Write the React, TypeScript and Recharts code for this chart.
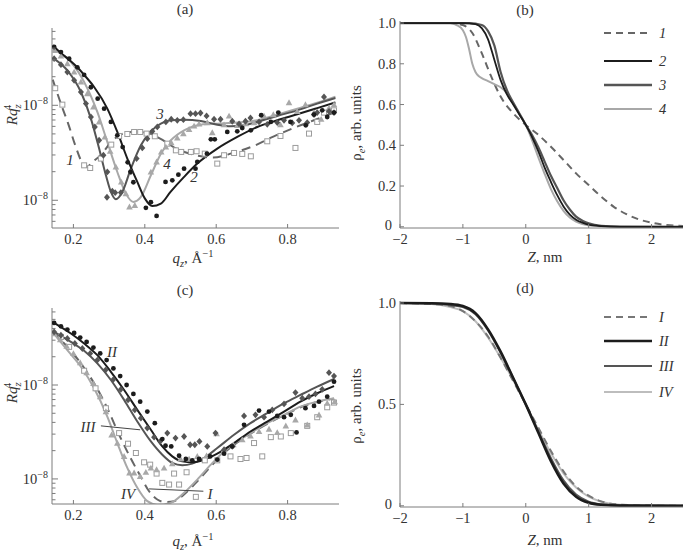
import React from 'react';
import { ComposedChart, Line, Scatter, XAxis, YAxis, ReferenceLine, Legend } from 'recharts';

type Pt = [number, number];

const SERIF = '"Liberation Serif", "Times New Roman", serif';
const AXIS = '#7c7c7c';
const INK = '#333';
const BLACK = '#1c1c1c';
const DARK = '#555';
const LIGHT = '#a8a8a8';
const DASH = '#666';

// (a) q_z [1/Å] vs log10(R q_z^4)
const fitA1: Pt[] = [[0.142, -6.73], [0.168, -7.015], [0.186, -7.2], [0.205, -7.42], [0.224, -7.6], [0.238, -7.65], [0.252, -7.6], [0.275, -7.53], [0.303, -7.4], [0.331, -7.31], [0.368, -7.278], [0.406, -7.29], [0.443, -7.35], [0.49, -7.46], [0.536, -7.52], [0.592, -7.55], [0.648, -7.5], [0.704, -7.43], [0.76, -7.33], [0.816, -7.24], [0.872, -7.16], [0.934, -7.07]];
const fitA2: Pt[] = [[0.142, -6.37], [0.165, -6.45], [0.188, -6.52], [0.211, -6.6], [0.23, -6.68], [0.258, -6.807], [0.295, -7.035], [0.323, -7.281], [0.351, -7.561], [0.379, -7.807], [0.4, -7.98], [0.421, -8.06], [0.445, -8.035], [0.472, -7.912], [0.51, -7.754], [0.547, -7.614], [0.603, -7.456], [0.659, -7.333], [0.715, -7.228], [0.771, -7.158], [0.827, -7.095], [0.883, -7.03], [0.934, -6.97]];
const fitA3: Pt[] = [[0.142, -6.5], [0.183, -6.632], [0.221, -6.86], [0.249, -7.14], [0.272, -7.456], [0.291, -7.737], [0.305, -7.912], [0.319, -7.989], [0.337, -7.912], [0.361, -7.667], [0.389, -7.421], [0.417, -7.274], [0.445, -7.193], [0.473, -7.158], [0.51, -7.151], [0.557, -7.165], [0.603, -7.204], [0.64, -7.221], [0.678, -7.211], [0.715, -7.175], [0.771, -7.112], [0.827, -7.053], [0.883, -6.982], [0.934, -6.923]];
const fitA4: Pt[] = [[0.142, -6.41], [0.193, -6.544], [0.23, -6.754], [0.267, -7.07], [0.295, -7.386], [0.323, -7.702], [0.347, -7.93], [0.368, -8.018], [0.389, -7.965], [0.417, -7.737], [0.445, -7.509], [0.473, -7.368], [0.51, -7.263], [0.557, -7.204], [0.603, -7.193], [0.659, -7.182], [0.715, -7.158], [0.771, -7.098], [0.827, -7.035], [0.883, -6.972], [0.934, -6.909]];

const ptsA1: Pt[] = [[0.149, -6.82], [0.169, -6.993], [0.23, -7.632], [0.247, -7.66], [0.277, -7.561], [0.306, -7.414], [0.328, -7.323], [0.351, -7.302], [0.37, -7.281], [0.387, -7.281], [0.405, -7.298], [0.428, -7.326], [0.463, -7.404], [0.487, -7.474], [0.502, -7.491], [0.529, -7.491], [0.545, -7.484], [0.568, -7.509], [0.603, -7.614], [0.622, -7.526], [0.65, -7.502], [0.673, -7.512], [0.697, -7.537], [0.743, -7.379], [0.78, -7.323], [0.822, -7.449], [0.86, -7.298], [0.883, -7.175], [0.902, -7.077], [0.93, -7.053]];
const ptsA2: Pt[] = [[0.146, -6.386], [0.165, -6.44], [0.188, -6.51], [0.211, -6.6], [0.23, -6.68], [0.249, -6.81], [0.268, -6.93], [0.286, -7.035], [0.305, -7.175], [0.323, -7.316], [0.338, -7.44], [0.352, -7.6], [0.36, -7.7], [0.368, -7.81], [0.403, -8.08], [0.417, -8.02], [0.433, -8.165], [0.458, -7.807], [0.477, -7.79], [0.494, -7.73], [0.51, -7.667], [0.542, -7.667], [0.547, -7.596], [0.574, -7.509], [0.585, -7.358], [0.596, -7.358], [0.631, -7.28], [0.659, -7.274], [0.673, -7.239], [0.697, -7.263], [0.726, -7.105], [0.753, -7.175], [0.774, -7.077], [0.808, -7.175], [0.851, -7.211], [0.874, -7.098], [0.897, -7.053], [0.911, -7.123], [0.93, -7.077]];
const ptsA3: Pt[] = [[0.146, -6.509], [0.165, -6.572], [0.183, -6.65], [0.202, -6.737], [0.221, -6.86], [0.235, -6.982], [0.249, -7.123], [0.26, -7.228], [0.272, -7.368], [0.284, -7.526], [0.295, -7.702], [0.309, -7.905], [0.294, -7.968], [0.317, -7.92], [0.333, -7.919], [0.361, -7.7], [0.377, -7.561], [0.393, -7.449], [0.407, -7.351], [0.421, -7.274], [0.435, -7.228], [0.459, -7.175], [0.474, -7.147], [0.491, -7.158], [0.508, -7.151], [0.528, -7.088], [0.542, -7.088], [0.556, -7.081], [0.573, -7.112], [0.594, -7.147], [0.612, -7.147], [0.645, -7.168], [0.664, -7.196], [0.682, -7.168], [0.696, -7.133], [0.72, -7.175], [0.743, -7.2], [0.771, -7.182], [0.79, -7.158], [0.813, -7.186], [0.832, -7.158], [0.855, -7.182], [0.874, -7.098], [0.883, -7.077], [0.902, -6.912], [0.916, -7.063], [0.93, -7.077]];
const ptsA4: Pt[] = [[0.146, -6.421], [0.165, -6.481], [0.183, -6.561], [0.202, -6.649], [0.221, -6.754], [0.239, -6.877], [0.256, -7.018], [0.272, -7.175], [0.288, -7.333], [0.303, -7.484], [0.319, -7.649], [0.334, -7.807], [0.347, -7.93], [0.357, -8.07], [0.372, -8.053], [0.417, -7.702], [0.433, -7.596], [0.446, -7.491], [0.459, -7.439], [0.474, -7.393], [0.491, -7.344], [0.508, -7.298], [0.524, -7.253], [0.538, -7.218], [0.552, -7.196], [0.575, -7.182], [0.589, -7.288], [0.622, -7.204], [0.636, -7.112], [0.659, -7.211], [0.682, -7.193], [0.706, -7.182], [0.734, -7.112], [0.76, -7.098], [0.78, -7.204], [0.804, -6.972], [0.827, -7.063], [0.85, -6.993], [0.874, -7.077], [0.894, -7.147], [0.916, -7.028], [0.93, -6.993]];

// (c) same axes, samples I-IV
const fitC1: Pt[] = [[0.142, -6.43], [0.183, -6.594], [0.221, -6.77], [0.258, -6.982], [0.295, -7.247], [0.328, -7.53], [0.36, -7.777], [0.388, -7.972], [0.412, -8.131], [0.435, -8.219], [0.459, -8.247], [0.482, -8.237], [0.51, -8.166], [0.547, -8.025], [0.585, -7.866], [0.622, -7.724], [0.659, -7.611], [0.696, -7.519], [0.743, -7.413], [0.79, -7.322], [0.836, -7.237], [0.883, -7.18], [0.93, -7.145]];
const fitC2: Pt[] = [[0.142, -6.33], [0.193, -6.452], [0.23, -6.558], [0.267, -6.682], [0.305, -6.859], [0.342, -7.053], [0.379, -7.265], [0.417, -7.477], [0.449, -7.654], [0.477, -7.76], [0.505, -7.813], [0.533, -7.823], [0.566, -7.795], [0.603, -7.731], [0.65, -7.618], [0.696, -7.495], [0.743, -7.389], [0.79, -7.283], [0.836, -7.177], [0.883, -7.088], [0.93, -7.011]];
const fitC3: Pt[] = [[0.142, -6.425], [0.193, -6.541], [0.23, -6.636], [0.267, -6.77], [0.305, -6.947], [0.342, -7.159], [0.379, -7.389], [0.417, -7.601], [0.449, -7.742], [0.477, -7.83], [0.505, -7.855], [0.533, -7.837], [0.566, -7.777], [0.603, -7.671], [0.65, -7.53], [0.696, -7.406], [0.743, -7.3], [0.79, -7.194], [0.836, -7.106], [0.883, -7.018], [0.93, -6.936]];
const fitC4: Pt[] = [[0.142, -6.44], [0.183, -6.629], [0.221, -6.806], [0.258, -7.035], [0.295, -7.336], [0.323, -7.618], [0.351, -7.883], [0.379, -8.095], [0.407, -8.237], [0.435, -8.275], [0.472, -8.255], [0.51, -8.148], [0.547, -8.007], [0.585, -7.848], [0.622, -7.707], [0.659, -7.6], [0.696, -7.512], [0.743, -7.406], [0.79, -7.318], [0.836, -7.23], [0.883, -7.177], [0.93, -7.141]];

const ptsC1: Pt[] = [[0.165, -6.488], [0.188, -6.594], [0.23, -6.848], [0.262, -7.035], [0.291, -7.247], [0.328, -7.512], [0.353, -7.625], [0.375, -7.724], [0.398, -7.823], [0.415, -7.848], [0.433, -7.943], [0.449, -8.042], [0.468, -8.06], [0.482, -7.943], [0.496, -8.06], [0.517, -7.929], [0.543, -8.191], [0.568, -7.802], [0.603, -7.802], [0.64, -7.76], [0.668, -7.788], [0.685, -7.777], [0.706, -7.618], [0.729, -7.76], [0.753, -7.555], [0.781, -7.548], [0.809, -7.512], [0.855, -7.435], [0.883, -7.343], [0.911, -7.237], [0.93, -7.187]];
const ptsC2: Pt[] = [[0.146, -6.339], [0.165, -6.375], [0.183, -6.41], [0.202, -6.445], [0.219, -6.495], [0.237, -6.541], [0.256, -6.601], [0.275, -6.664], [0.293, -6.735], [0.312, -6.823], [0.331, -6.905], [0.349, -7.0], [0.368, -7.095], [0.387, -7.177], [0.407, -7.283], [0.428, -7.406], [0.449, -7.576], [0.458, -7.647], [0.474, -7.654], [0.496, -7.753], [0.515, -7.788], [0.533, -7.802], [0.552, -7.788], [0.583, -7.76], [0.603, -7.795], [0.622, -7.731], [0.645, -7.654], [0.678, -7.424], [0.72, -7.272], [0.748, -7.283], [0.771, -7.329], [0.79, -7.343], [0.809, -7.318], [0.825, -7.505], [0.85, -7.247], [0.874, -7.223], [0.888, -7.177], [0.911, -7.124], [0.93, -6.965]];
const ptsC3: Pt[] = [[0.146, -6.435], [0.165, -6.47], [0.183, -6.505], [0.204, -6.558], [0.225, -6.611], [0.247, -6.664], [0.267, -6.735], [0.29, -6.841], [0.312, -6.94], [0.333, -7.046], [0.353, -7.159], [0.372, -7.265], [0.389, -7.353], [0.407, -7.459], [0.426, -7.555], [0.443, -7.601], [0.463, -7.512], [0.486, -7.565], [0.51, -7.548], [0.527, -7.636], [0.54, -7.636], [0.553, -7.601], [0.575, -7.654], [0.598, -7.512], [0.622, -7.689], [0.645, -7.654], [0.678, -7.329], [0.71, -7.318], [0.734, -7.343], [0.757, -7.265], [0.79, -7.201], [0.822, -7.081], [0.841, -7.141], [0.86, -7.124], [0.878, -7.095], [0.897, -7.046], [0.916, -6.869], [0.93, -6.905]];
const ptsC4: Pt[] = [[0.146, -6.452], [0.163, -6.516], [0.181, -6.587], [0.2, -6.664], [0.219, -6.763], [0.237, -6.869], [0.256, -6.982], [0.275, -7.124], [0.291, -7.283], [0.307, -7.53], [0.323, -7.618], [0.342, -7.76], [0.357, -7.936], [0.37, -7.936], [0.387, -7.972], [0.403, -7.929], [0.417, -7.883], [0.433, -7.901], [0.454, -7.883], [0.477, -7.837], [0.5, -7.788], [0.524, -7.788], [0.547, -7.76], [0.573, -7.753], [0.601, -7.519], [0.622, -7.689], [0.648, -7.636], [0.673, -7.583], [0.696, -7.541], [0.72, -7.495], [0.748, -7.47], [0.771, -7.505], [0.795, -7.435], [0.822, -7.371], [0.855, -7.424], [0.888, -7.318], [0.911, -7.194], [0.932, -7.177]];

// leader lines for the labels in (c), [q, log10 value]
const leadersC: [Pt, Pt][] = [[[0.277, -7.435], [0.387, -7.477]], [[0.412, -8.106], [0.564, -8.131]]];

// (b) electron density profiles, Z [nm] vs rho_e
const profB1: Pt[] = [[-2, 1], [-1.2, 1], [-1.0, 0.99], [-0.85, 0.951], [-0.7, 0.852], [-0.55, 0.738], [-0.4, 0.639], [-0.2, 0.557], [0, 0.5], [0.2, 0.451], [0.4, 0.393], [0.6, 0.328], [0.8, 0.262], [1.0, 0.205], [1.2, 0.148], [1.4, 0.098], [1.6, 0.062], [1.8, 0.036], [2.0, 0.02], [2.2, 0.01], [2.5, 0.004]];
const profB2: Pt[] = [[-2, 1], [-1.0, 1], [-0.8, 0.995], [-0.7, 0.975], [-0.6, 0.92], [-0.5, 0.82], [-0.4, 0.72], [-0.3, 0.65], [-0.2, 0.6], [-0.1, 0.55], [0, 0.5], [0.1, 0.44], [0.2, 0.37], [0.3, 0.29], [0.4, 0.22], [0.5, 0.155], [0.6, 0.1], [0.7, 0.06], [0.8, 0.035], [0.9, 0.02], [1.0, 0.01], [1.2, 0.003], [1.5, 0], [2.5, 0]];
const profB3: Pt[] = [[-2, 1], [-0.9, 1], [-0.7, 0.99], [-0.6, 0.96], [-0.5, 0.89], [-0.4, 0.76], [-0.3, 0.67], [-0.2, 0.61], [-0.1, 0.555], [0, 0.5], [0.1, 0.45], [0.2, 0.39], [0.3, 0.32], [0.4, 0.25], [0.5, 0.19], [0.6, 0.13], [0.7, 0.085], [0.8, 0.05], [0.9, 0.03], [1.0, 0.017], [1.2, 0.005], [1.5, 0.001], [2.5, 0]];
const profB4: Pt[] = [[-2, 1], [-1.2, 1], [-1.1, 0.99], [-1.0, 0.965], [-0.95, 0.93], [-0.9, 0.87], [-0.85, 0.8], [-0.8, 0.76], [-0.75, 0.74], [-0.7, 0.73], [-0.6, 0.715], [-0.5, 0.7], [-0.4, 0.685], [-0.3, 0.655], [-0.2, 0.605], [-0.1, 0.555], [0, 0.5], [0.1, 0.425], [0.2, 0.34], [0.3, 0.26], [0.4, 0.185], [0.5, 0.125], [0.6, 0.078], [0.7, 0.045], [0.8, 0.025], [0.9, 0.013], [1.0, 0.007], [1.2, 0.002], [1.5, 0], [2.5, 0]];

// (d) profiles I-IV
const profD1: Pt[] = [[-2, 1], [-1.5, 0.995], [-1.2, 0.985], [-1.0, 0.96], [-0.8, 0.91], [-0.6, 0.835], [-0.4, 0.73], [-0.2, 0.615], [0, 0.5], [0.2, 0.385], [0.4, 0.27], [0.6, 0.17], [0.8, 0.095], [1.0, 0.05], [1.2, 0.022], [1.5, 0.006], [2.0, 0.001], [2.5, 0]];
const profD2: Pt[] = [[-2, 1], [-1.5, 0.999], [-1.2, 0.995], [-1.0, 0.985], [-0.8, 0.95], [-0.6, 0.87], [-0.4, 0.76], [-0.2, 0.63], [0, 0.5], [0.2, 0.36], [0.4, 0.22], [0.6, 0.11], [0.8, 0.045], [1.0, 0.015], [1.2, 0.005], [1.5, 0.001], [2.5, 0]];
const profD3: Pt[] = [[-2, 1], [-1.5, 0.998], [-1.2, 0.99], [-1.0, 0.98], [-0.8, 0.945], [-0.6, 0.865], [-0.4, 0.755], [-0.2, 0.63], [0, 0.5], [0.2, 0.365], [0.4, 0.235], [0.6, 0.125], [0.8, 0.055], [1.0, 0.02], [1.2, 0.007], [1.5, 0.001], [2.5, 0]];
const profD4: Pt[] = [[-2, 1], [-1.5, 0.995], [-1.2, 0.98], [-1.0, 0.96], [-0.8, 0.91], [-0.6, 0.83], [-0.4, 0.73], [-0.2, 0.62], [0, 0.5], [0.2, 0.375], [0.4, 0.26], [0.6, 0.16], [0.8, 0.09], [1.0, 0.045], [1.2, 0.02], [1.5, 0.005], [2.0, 0.001], [2.5, 0]];

const qTicks = [0.2, 0.4, 0.6, 0.8];
const zTicks = [-2, -1, 0, 1, 2];
const rhoTicksB = [0, 0.2, 0.4, 0.6, 0.8, 1.0];
const rhoTicksD = [0, 0.5, 1.0];
const logTicks = [6e-9, 7e-9, 8e-9, 9e-9, 1e-8, 2e-8, 3e-8, 4e-8, 5e-8, 6e-8, 7e-8, 8e-8, 9e-8, 1e-7, 2e-7, 3e-7, 4e-7, 5e-7, 6e-7];

const legendB = [
  { label: '1', color: DASH, dash: '7 5', width: 2 },
  { label: '2', color: BLACK, dash: undefined, width: 2 },
  { label: '3', color: DARK, dash: undefined, width: 2.4 },
  { label: '4', color: LIGHT, dash: undefined, width: 2 },
];
const legendD = [
  { label: 'I', color: '#777', dash: '7 5', width: 2 },
  { label: 'II', color: BLACK, dash: undefined, width: 2.6 },
  { label: 'III', color: DARK, dash: undefined, width: 2 },
  { label: 'IV', color: '#bdbdbd', dash: undefined, width: 2 },
];

const logRows = (pts: Pt[]) => pts.map(([q, e]) => ({ x: q, y: 10 ** e }));
const rows = (pts: Pt[]) => pts.map(([x, y]) => ({ x, y }));

const minus = (v: number) => (v < 0 ? `\u2212${-v}` : `${v}`);

const TICK_FS = 14.5;

const Circle = (p: any) => <circle cx={p.cx} cy={p.cy} r={2.4} fill={BLACK} />;
const Diamond = (p: any) => (
  <path d={`M${p.cx},${p.cy - 3.4}L${p.cx + 3},${p.cy}L${p.cx},${p.cy + 3.4}L${p.cx - 3},${p.cy}Z`} fill={DARK} />
);
const Triangle = (p: any) => (
  <path d={`M${p.cx},${p.cy - 3.3}L${p.cx + 3.3},${p.cy + 2.6}L${p.cx - 3.3},${p.cy + 2.6}Z`} fill={LIGHT} />
);
const Square = (p: any) => (
  <rect x={p.cx - 2.5} y={p.cy - 2.5} width={5} height={5} fill="#fff" stroke="#9c9c9c" strokeWidth={1} />
);

const XTick = (fmt: (v: number) => string) => (p: any) => (
  <g>
    <line x1={p.x} x2={p.x} y1={p.y} y2={p.y - 4} stroke={AXIS} />
    <text x={p.x} y={p.y + 16} textAnchor="middle" fontFamily={SERIF} fontSize={TICK_FS} fill={INK}>
      {fmt(p.payload.value)}
    </text>
  </g>
);

const YTick = (fmt: (v: number) => string) => (p: any) => (
  <g>
    <line x1={p.x} x2={p.x + 4} y1={p.y} y2={p.y} stroke={AXIS} />
    <text
      x={p.x - (p.payload.value === 0 ? 8 : 4)}
      y={p.y + (p.payload.value === 0 ? 3 : 5)}
      textAnchor="end"
      fontFamily={SERIF}
      fontSize={TICK_FS}
      fill={INK}
    >
      {fmt(p.payload.value)}
    </text>
  </g>
);

const LogTick = (p: any) => {
  const e = Math.log10(p.payload.value);
  const major = Math.abs(e - Math.round(e)) < 1e-6;
  return (
    <g>
      <line x1={p.x} x2={p.x + (major ? 6 : 3.5)} y1={p.y} y2={p.y} stroke={AXIS} />
      {major && (
        <text x={p.x - 4} y={p.y + 5} textAnchor="end" fontFamily={SERIF} fontSize={TICK_FS} fill={INK}>
          10<tspan dy={-6} fontSize={10}>{'\u22128'}</tspan>
        </text>
      )}
    </g>
  );
};

const Txt = ({ x, y, children, size = 15, italic = false, rotate = false }: any) => (
  <div
    style={{
      position: 'absolute',
      left: x,
      top: y,
      transform: `translate(-50%, -50%)${rotate ? ' rotate(-90deg)' : ''}`,
      fontFamily: SERIF,
      fontSize: size,
      fontStyle: italic ? 'italic' : 'normal',
      color: INK,
      whiteSpace: 'nowrap',
      lineHeight: 1,
    }}
  >
    {children}
  </div>
);

const QLabel = () => (
  <span>
    <i>q</i>
    <sub style={{ fontSize: 10.5, fontStyle: 'italic' }}>z</sub>, Å<sup style={{ fontSize: 10.5 }}>{'\u22121'}</sup>
  </span>
);
const RLabel = () => (
  <span>
    <i>Rq</i>
    <sub style={{ fontSize: 11, fontStyle: 'italic' }}>z</sub>
    <sup style={{ fontSize: 11, marginLeft: -6 }}>4</sup>
  </span>
);
const RhoLabel = () => (
  <span>
    ρ<sub style={{ fontSize: 10.5, fontStyle: 'italic' }}>e</sub>, arb. units
  </span>
);
const ZLabel = () => (
  <span>
    <i>Z</i>, nm
  </span>
);

const LegendBox = ({ items, gaps }: { items: typeof legendB; gaps: number[] }) => (
  <svg width={90} height={110}>
    {items.map((it, i) => (
      <g key={it.label}>
        <line x1={2} x2={50} y1={gaps[i]} y2={gaps[i]} stroke={it.color} strokeWidth={it.width} strokeDasharray={it.dash} />
        <text x={57} y={gaps[i] + 5} fontFamily={SERIF} fontStyle="italic" fontSize={14.5} fill={INK}>
          {it.label}
        </text>
      </g>
    ))}
  </svg>
);

type ReflProps = {
  top: number;
  height: number;
  margin: { top: number; right: number; left: number; bottom: number };
  yDomain: [number, number];
  fits: { data: Pt[]; color: string; dash?: string; width: number }[];
  points: { data: Pt[]; shape: any }[];
  leaders?: [Pt, Pt][];
};

function ReflChart({ top, height, margin, yDomain, fits, points, leaders = [] }: ReflProps) {
  return (
    <div style={{ position: 'absolute', left: 0, top }}>
      <ComposedChart width={345} height={height} margin={margin}>
        <XAxis
          dataKey="x"
          type="number"
          domain={[0.14, 0.944]}
          ticks={qTicks}
          allowDataOverflow
          height={47}
          stroke={AXIS}
          tickLine={false}
          tickSize={0}
          tickMargin={0}
          tick={XTick((v) => v.toFixed(1))}
        />
        <YAxis
          dataKey="y"
          type="number"
          scale="log"
          domain={yDomain}
          ticks={logTicks}
          allowDataOverflow
          width={52}
          stroke={AXIS}
          tickLine={false}
          tickSize={0}
          tickMargin={0}
          interval={0}
          tick={LogTick}
        />
        {points.map((s, i) => (
          <Scatter key={`p${i}`} data={logRows(s.data)} dataKey="y" shape={s.shape} isAnimationActive={false} />
        ))}
        {fits.map((f, i) => (
          <Line
            key={`f${i}`}
            data={logRows(f.data)}
            dataKey="y"
            type="monotone"
            stroke={f.color}
            strokeWidth={f.width}
            strokeDasharray={f.dash}
            dot={false}
            activeDot={false}
            isAnimationActive={false}
          />
        ))}
        {leaders.map(([a, b], i) => (
          <ReferenceLine
            key={`l${i}`}
            segment={[
              { x: a[0], y: 10 ** a[1] },
              { x: b[0], y: 10 ** b[1] },
            ]}
            stroke="#444"
            strokeWidth={1}
            ifOverflow="visible"
          />
        ))}
      </ComposedChart>
    </div>
  );
}

type ProfProps = {
  top: number;
  height: number;
  margin: { top: number; right: number; left: number; bottom: number };
  xHeight: number;
  yTicks: number[];
  yFmt: (v: number) => string;
  curves: { data: Pt[]; color: string; dash?: string; width: number }[];
  legend: typeof legendB;
  legendTop: number;
  legendGaps: number[];
};

function ProfileChart({ top, height, margin, xHeight, yTicks, yFmt, curves, legend, legendTop, legendGaps }: ProfProps) {
  return (
    <div style={{ position: 'absolute', left: 345, top }}>
      <ComposedChart width={340} height={height} margin={margin}>
        <XAxis
          dataKey="x"
          type="number"
          domain={[-2, 2.5]}
          ticks={zTicks}
          allowDataOverflow
          height={xHeight}
          stroke={AXIS}
          tickLine={false}
          tickSize={0}
          tickMargin={0}
          tick={XTick(minus)}
        />
        <YAxis
          dataKey="y"
          type="number"
          domain={[-0.006, 1.01]}
          ticks={yTicks}
          allowDataOverflow
          width={55}
          stroke={AXIS}
          tickLine={false}
          tickSize={0}
          tickMargin={0}
          interval={0}
          tick={YTick(yFmt)}
        />
        {curves.map((c, i) => (
          <Line
            key={i}
            data={rows(c.data)}
            dataKey="y"
            type="monotone"
            stroke={c.color}
            strokeWidth={c.width}
            strokeDasharray={c.dash}
            dot={false}
            activeDot={false}
            isAnimationActive={false}
          />
        ))}
        <Legend
          layout="vertical"
          align="center"
          verticalAlign="middle"
          wrapperStyle={{ left: 257, top: legendTop, width: 90, height: 110 }}
          content={() => <LegendBox items={legend} gaps={legendGaps} />}
        />
      </ComposedChart>
    </div>
  );
}

export default function App() {
  return (
    <div style={{ position: 'absolute', left: 0, top: 0, width: 685, height: 551, background: '#fff', overflow: 'hidden' }}>
      <ReflChart
        top={0}
        height={275}
        margin={{ top: 28, right: 6, left: 0, bottom: 0 }}
        yDomain={[10 ** -8.292, 10 ** -6.186]}
        points={[
          { data: ptsA1, shape: Square },
          { data: ptsA4, shape: Triangle },
          { data: ptsA3, shape: Diamond },
          { data: ptsA2, shape: Circle },
        ]}
        fits={[
          { data: fitA4, color: LIGHT, width: 2 },
          { data: fitA3, color: DARK, width: 2 },
          { data: fitA2, color: BLACK, width: 2 },
          { data: fitA1, color: DASH, dash: '9 6', width: 2 },
        ]}
      />
      <ReflChart
        top={275}
        height={276}
        margin={{ top: 33, right: 6, left: 0, bottom: 0 }}
        yDomain={[10 ** -8.267, 10 ** -6.18]}
        points={[
          { data: ptsC1, shape: Square },
          { data: ptsC4, shape: Triangle },
          { data: ptsC3, shape: Diamond },
          { data: ptsC2, shape: Circle },
        ]}
        fits={[
          { data: fitC1, color: DASH, dash: '9 6', width: 2 },
          { data: fitC4, color: LIGHT, width: 2 },
          { data: fitC3, color: DARK, width: 2 },
          { data: fitC2, color: BLACK, width: 2 },
        ]}
        leaders={leadersC}
      />
      <ProfileChart
        top={0}
        height={275}
        margin={{ top: 21, right: 2, left: 0, bottom: 0 }}
        xHeight={47}
        yTicks={rhoTicksB}
        yFmt={(v) => (v === 0 ? '0' : v.toFixed(1))}
        curves={[
          { data: profB1, color: DASH, dash: '7 5', width: 2 },
          { data: profB4, color: LIGHT, width: 2 },
          { data: profB3, color: DARK, width: 2.2 },
          { data: profB2, color: BLACK, width: 1.8 },
        ]}
        legend={legendB}
        legendTop={20}
        legendGaps={[13, 41, 65, 89]}
      />
      <ProfileChart
        top={275}
        height={276}
        margin={{ top: 26, right: 2, left: 0, bottom: 0 }}
        xHeight={44}
        yTicks={rhoTicksD}
        yFmt={(v) => (v === 0 ? '0' : v.toFixed(1))}
        curves={[
          { data: profD4, color: '#bdbdbd', width: 2 },
          { data: profD1, color: '#777', dash: '7 5', width: 2 },
          { data: profD3, color: DARK, width: 2 },
          { data: profD2, color: BLACK, width: 2.6 },
        ]}
        legend={legendD}
        legendTop={30}
        legendGaps={[12, 36, 61, 87]}
      />

      <Txt x={185} y={9}>(a)</Txt>
      <Txt x={525} y={10}>(b)</Txt>
      <Txt x={185} y={290}>(c)</Txt>
      <Txt x={525} y={288}>(d)</Txt>

      <Txt x={193} y={259}><QLabel /></Txt>
      <Txt x={193} y={542}><QLabel /></Txt>
      <Txt x={545} y={257}><ZLabel /></Txt>
      <Txt x={545} y={540}><ZLabel /></Txt>
      <Txt x={12} y={115} rotate><RLabel /></Txt>
      <Txt x={12} y={393} rotate><RLabel /></Txt>
      <Txt x={358} y={123} rotate><RhoLabel /></Txt>
      <Txt x={358} y={406} rotate><RhoLabel /></Txt>

      <Txt x={70} y={160} italic size={15}>1</Txt>
      <Txt x={160} y={114} italic size={15}>3</Txt>
      <Txt x={167} y={164} italic size={15}>4</Txt>
      <Txt x={194} y={177} italic size={15}>2</Txt>

      <Txt x={112} y={352} italic size={15}>II</Txt>
      <Txt x={88} y={427} italic size={15}>III</Txt>
      <Txt x={128} y={494} italic size={15}>IV</Txt>
      <Txt x={210} y={494} italic size={15}>I</Txt>
    </div>
  );
}
